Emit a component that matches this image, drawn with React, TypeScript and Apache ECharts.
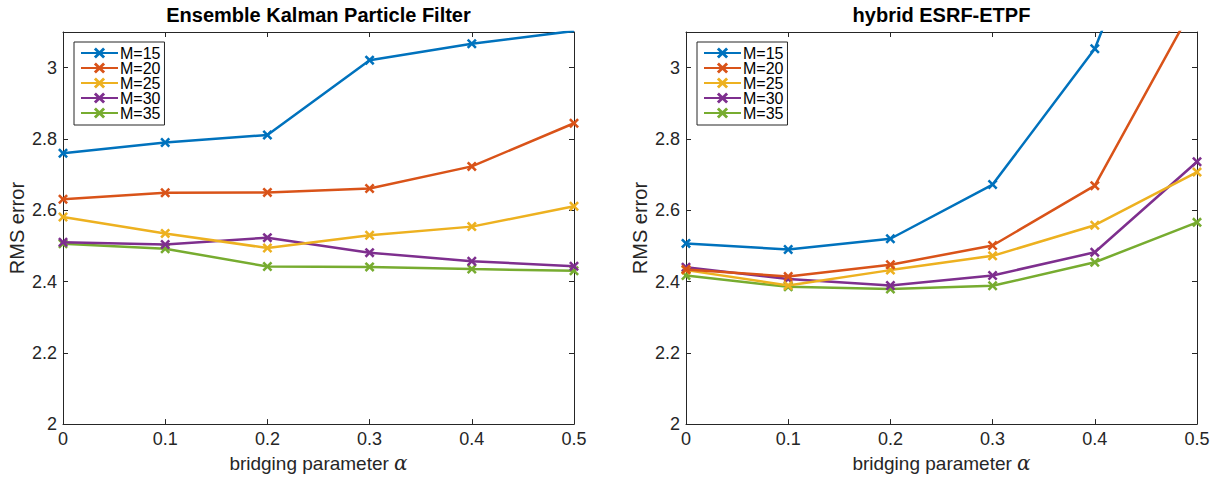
import React, { useEffect, useRef } from "react";
import * as echarts from "echarts";

const alpha = [0, 0.1, 0.2, 0.3, 0.4, 0.5];
const seriesNames = ["M=15", "M=20", "M=25", "M=30", "M=35"];
const colors = ["#0072BD", "#D95319", "#EDB120", "#7E2F8E", "#77AC30"];
const panelTitles = ["Ensemble Kalman Particle Filter", "hybrid ESRF-ETPF"];

// Ensemble Kalman Particle Filter
const enkpfM15 = [2.76, 2.79, 2.811, 3.021, 3.067, 3.103];
const enkpfM20 = [2.631, 2.649, 2.65, 2.661, 2.723, 2.844];
const enkpfM25 = [2.581, 2.535, 2.494, 2.53, 2.554, 2.611];
const enkpfM30 = [2.51, 2.504, 2.523, 2.481, 2.457, 2.443];
const enkpfM35 = [2.506, 2.492, 2.442, 2.441, 2.435, 2.43];

// hybrid ESRF-ETPF
const hybridM15 = [2.507, 2.49, 2.52, 2.672, 3.053, 3.78];
const hybridM20 = [2.434, 2.414, 2.447, 2.501, 2.669, 3.19];
const hybridM25 = [2.432, 2.389, 2.432, 2.472, 2.558, 2.707];
const hybridM30 = [2.44, 2.407, 2.389, 2.417, 2.482, 2.736];
const hybridM35 = [2.417, 2.385, 2.379, 2.388, 2.454, 2.566];

const panels = [
  [enkpfM15, enkpfM20, enkpfM25, enkpfM30, enkpfM35],
  [hybridM15, hybridM20, hybridM25, hybridM30, hybridM35],
];

const xTicks = { min: 0, max: 0.5, interval: 0.1 };
const yTicks = { min: 2, max: 3.1, interval: 0.2 };

const X_SYMBOL =
  "path://M0,1.8L1.8,0L5,3.2L8.2,0L10,1.8L6.8,5L10,8.2L8.2,10L5,6.8L1.8,10L0,8.2L3.2,5Z";

const AXIS_COLOR = "#262626";
const FONT = "'Liberation Sans', Arial, Helvetica, sans-serif";

export default function App() {
  const ref = useRef<HTMLDivElement>(null);

  useEffect(() => {
    if (!ref.current) return;
    const chart = echarts.init(ref.current, undefined, { renderer: "svg" });

    const gridLefts = [63, 686];
    const gridWidth = 511;
    const gridTop = 32;
    const gridBottom = 44; // 478 - 434

    const grids = gridLefts.map((l) => ({
      left: l,
      width: gridWidth,
      top: gridTop,
      bottom: gridBottom,
      containLabel: false,
    }));

    const xAxes: any[] = [];
    const yAxes: any[] = [];
    gridLefts.forEach((_, p) => {
      xAxes.push({
        type: "value",
        gridIndex: p,
        position: "bottom",
        ...xTicks,
        name: "bridging parameter {a|α}",
        nameLocation: "middle",
        nameGap: 22,
        nameTextStyle: {
          fontSize: 19,
          color: AXIS_COLOR,
          fontFamily: FONT,
          rich: {
            a: { fontSize: 20, fontStyle: "italic", fontFamily: "'DejaVu Serif', serif", color: AXIS_COLOR },
          },
        },
        axisLine: { show: true, onZero: false, lineStyle: { color: AXIS_COLOR, width: 1 } },
        axisTick: { show: true, inside: true, length: 5, lineStyle: { color: AXIS_COLOR } },
        axisLabel: { fontSize: 18, color: AXIS_COLOR, margin: 6, fontFamily: FONT },
        splitLine: { show: false },
      });
      xAxes.push({
        type: "value",
        gridIndex: p,
        position: "top",
        ...xTicks,
        axisLine: { show: true, onZero: false, lineStyle: { color: AXIS_COLOR, width: 1 } },
        axisTick: { show: true, inside: true, length: 5, lineStyle: { color: AXIS_COLOR } },
        axisLabel: { show: false },
        splitLine: { show: false },
      });
      yAxes.push({
        type: "value",
        gridIndex: p,
        position: "left",
        ...yTicks,
        name: "RMS error",
        nameLocation: "middle",
        nameGap: 36,
        nameTextStyle: { fontSize: 20, color: AXIS_COLOR, fontFamily: FONT },
        axisLine: { show: true, onZero: false, lineStyle: { color: AXIS_COLOR, width: 1 } },
        axisTick: { show: true, inside: true, length: 5, lineStyle: { color: AXIS_COLOR } },
        axisLabel: { fontSize: 18, color: AXIS_COLOR, margin: 6, showMaxLabel: false, fontFamily: FONT },
        splitLine: { show: false },
      });
      yAxes.push({
        type: "value",
        gridIndex: p,
        position: "right",
        ...yTicks,
        axisLine: { show: true, onZero: false, lineStyle: { color: AXIS_COLOR, width: 1 } },
        axisTick: { show: true, inside: true, length: 5, lineStyle: { color: AXIS_COLOR } },
        axisLabel: { show: false },
        splitLine: { show: false },
      });
    });

    const series: any[] = [];
    panels.forEach((panel, p) => {
      panel.forEach((vals, i) => {
        series.push({
          type: "line",
          name: seriesNames[i],
          xAxisIndex: p * 2,
          yAxisIndex: p * 2,
          data: alpha.map((a, j) => [a, vals[j]]),
          symbol: X_SYMBOL,
          symbolSize: 10,
          showSymbol: true,
          clip: true,
          lineStyle: { width: 2.5, color: colors[i] },
          itemStyle: { color: colors[i] },
          emphasis: { disabled: true },
          z: 2 + (4 - i),
        });
      });
    });

    const legends = [74, 697].map((l) => ({
      left: l,
      top: 42,
      orient: "vertical",
      data: seriesNames,
      itemWidth: 37,
      itemHeight: 14,
      itemGap: -1,
      padding: [3, 4, 4, 6],
      borderColor: AXIS_COLOR,
      borderWidth: 1,
      backgroundColor: "#ffffff",
      textStyle: { fontSize: 16, color: "#000", fontFamily: FONT, padding: [0, 0, 0, -3] },
      selectedMode: false,
    }));

    const titles = panelTitles.map((t, p) => ({
      text: t,
      left: gridLefts[p] + gridWidth / 2,
      top: 5,
      textAlign: "center",
      padding: 0,
      textStyle: { fontSize: 20, fontWeight: "bold", color: "#000", fontFamily: FONT },
    }));

    chart.setOption({
      animation: false,
      backgroundColor: "#ffffff",
      textStyle: { fontFamily: FONT },
      title: titles,
      legend: legends,
      grid: grids,
      xAxis: xAxes,
      yAxis: yAxes,
      series,
    });

    return () => chart.dispose();
  }, []);

  return (
    <div
      ref={ref}
      style={{ position: "fixed", left: 0, top: 0, width: 1217, height: 478 }}
    />
  );
}
